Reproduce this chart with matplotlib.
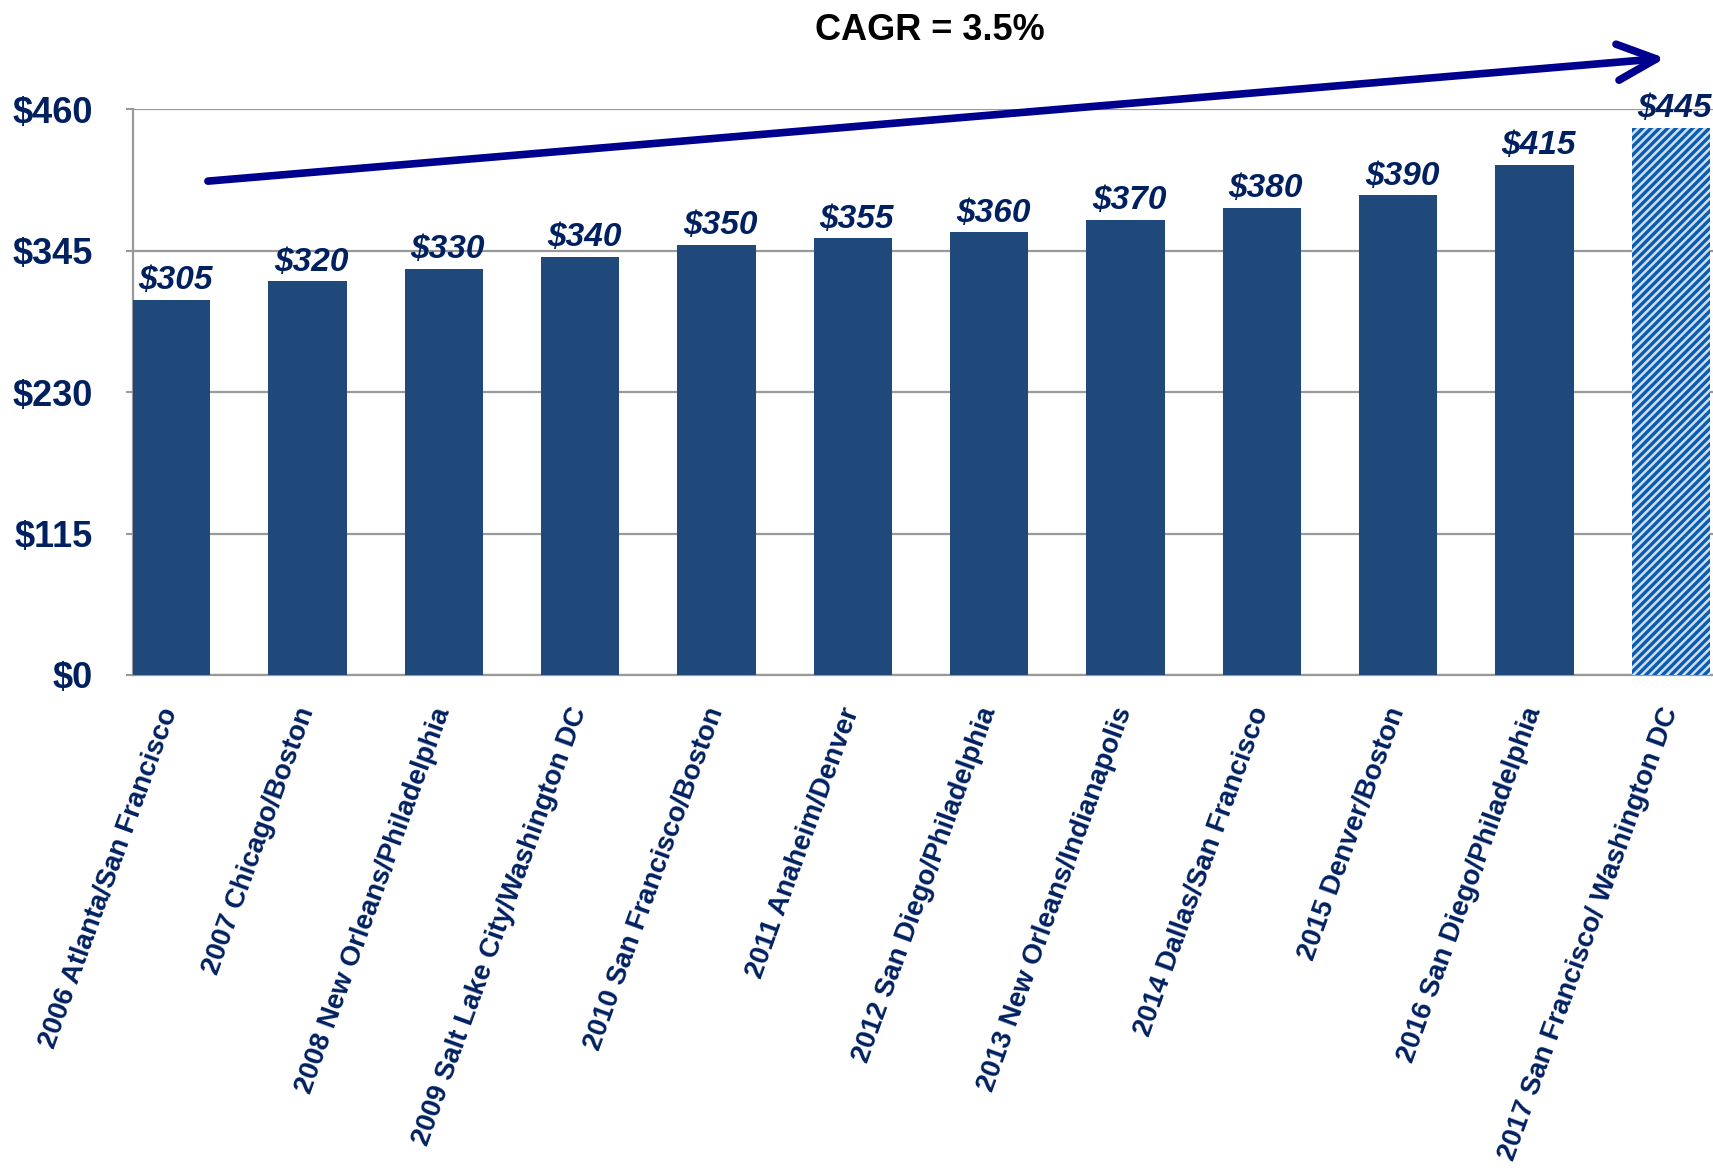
import matplotlib.pyplot as plt
import numpy as np

plt.rcParams['font.family'] = ['Liberation Sans', 'DejaVu Sans']
plt.rcParams['hatch.linewidth'] = 1.8

# meetings by year / city
categories = ['2006 Atlanta/San Francisco', '2007 Chicago/Boston',
              '2008 New Orleans/Philadelphia', '2009 Salt Lake City/Washington DC',
              '2010 San Francisco/Boston', '2011 Anaheim/Denver',
              '2012 San Diego/Philadelphia', '2013 New Orleans/Indianapolis',
              '2014 Dallas/San Francisco', '2015 Denver/Boston',
              '2016 San Diego/Philadelphia', '2017 San Francisco/ Washington DC']
values = [305, 320, 330, 340, 350, 355, 360, 370, 380, 390, 415, 445]
y_ticks = [0, 115, 230, 345, 460]
y_labels = ['$0', '$115', '$230', '$345', '$460']
cagr_text = 'CAGR = 3.5%'

navy = '#002060'
x = np.arange(len(values))

fig = plt.figure(figsize=(17.13, 11.73), dpi=100)
ax = fig.add_axes([0.0776, 0.4246, 0.9224, 0.4822])

colors = ['#1F497A'] * (len(values) - 1) + ['#0B5CB0']
bars = ax.bar(x, values, width=0.574, color=colors, zorder=3)
bars[-1].set_hatch('////')
bars[-1].set_edgecolor('#CFE0F3')
bars[-1].set_linewidth(0)

for xi, v in zip(x, values):
    ax.text(xi + 0.03, v + 3, '$%d' % v, ha='center', va='bottom', fontsize=24,
            fontweight='bold', fontstyle='italic', color=navy, zorder=4)

ax.set_xlim(-0.28, 11.31)
ax.set_ylim(0, 460)
ax.set_yticks(y_ticks)
ax.set_yticklabels(y_labels, fontsize=26, fontweight='bold', color=navy)
ax.set_xticks(x)
ax.set_xticklabels(categories, rotation=70, ha='right', va='center',
                   rotation_mode='anchor', fontsize=20, fontweight='bold', color=navy)
ax.tick_params(axis='x', length=0, pad=24)
ax.tick_params(axis='y', length=5, width=1.5, color='#999999', pad=24)
ax.yaxis.grid(True, color='#999999', lw=1.6, zorder=0)
for s in ['top', 'right']:
    ax.spines[s].set_visible(False)
for s in ['left', 'bottom']:
    ax.spines[s].set_color('#999999')
    ax.spines[s].set_linewidth(1.6)

# growth arrow
ax.annotate('', xy=(10.96, 501.6), xytext=(0.27, 401.6), annotation_clip=False,
            arrowprops=dict(arrowstyle='->,head_length=2.8,head_width=1.3',
                            lw=5.5, color='#00008F', shrinkA=0, shrinkB=0,
                            mutation_scale=10, capstyle='round', joinstyle='round'))
fig.text(930 / 1713, 1 - 30 / 1173, cagr_text, ha='center', va='center',
         fontsize=26, fontweight='bold', color='black')

fig.savefig('out.png', dpi=100)
